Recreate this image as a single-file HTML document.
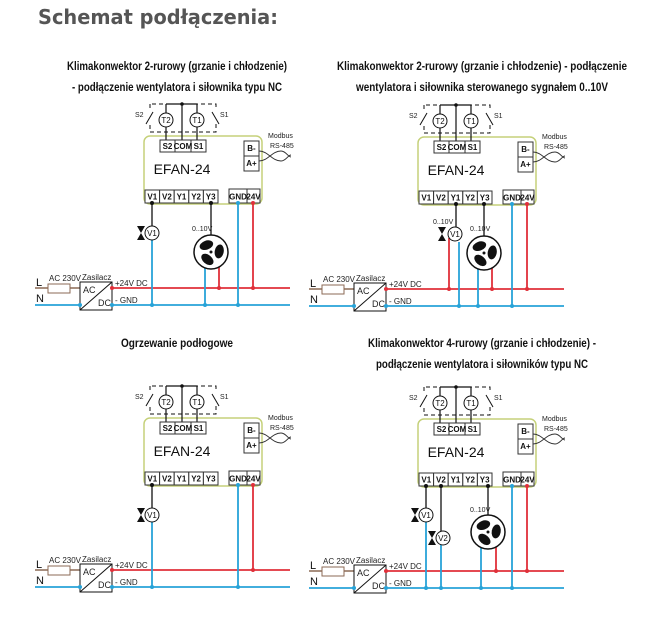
<!DOCTYPE html>
<html><head><meta charset="utf-8"><style>
html,body{margin:0;padding:0;background:#fff;}
svg{display:block;font-family:"Liberation Sans Narrow","Liberation Sans",sans-serif;}
.t{font-size:11px;fill:#111;}
.tm{font-size:8px;font-weight:bold;fill:#111;text-anchor:middle;}
.s{font-size:7px;fill:#222;}
.title{font-size:12px;font-weight:bold;fill:#111;text-anchor:middle;}
</style></head><body>
<svg width="655" height="621" viewBox="0 0 655 621" xmlns="http://www.w3.org/2000/svg">
<text x="38" y="24" style="font-family:'DejaVu Sans','Liberation Sans',sans-serif;font-weight:bold;font-size:20px;fill:#555" textLength="240" lengthAdjust="spacingAndGlyphs">Schemat podłączenia:</text>

<text class="title" x="177" y="70" textLength="220" lengthAdjust="spacingAndGlyphs">Klimakonwektor 2-rurowy (grzanie i chłodzenie)</text>
<text class="title" x="177" y="91" textLength="210" lengthAdjust="spacingAndGlyphs">- podłączenie wentylatora i siłownika typu NC</text>
<text class="title" x="482" y="70" textLength="290" lengthAdjust="spacingAndGlyphs">Klimakonwektor 2-rurowy (grzanie i chłodzenie) - podłączenie</text>
<text class="title" x="482" y="91" textLength="252" lengthAdjust="spacingAndGlyphs">wentylatora  i siłownika sterowanego sygnałem 0..10V</text>
<text class="title" x="177" y="347" textLength="112" lengthAdjust="spacingAndGlyphs">Ogrzewanie podłogowe</text>
<text class="title" x="482" y="347" textLength="228" lengthAdjust="spacingAndGlyphs">Klimakonwektor 4-rurowy (grzanie i chłodzenie) -</text>
<text class="title" x="482" y="368" textLength="212" lengthAdjust="spacingAndGlyphs">podłączenie wentylatora i siłowników typu NC</text>

<!-- Diagram 1 -->
<g transform="translate(0,0)">
<rect x="144" y="136" width="118" height="68" rx="6" fill="#fff" stroke="#c5d17a" stroke-width="1.5"/>
<g fill="none" stroke="#111" stroke-width="1" stroke-dasharray="4,3"><path d="M150 104 V132 H216 V104 H150"/></g>
<path d="M166 104 H197 M182 104 V141 M166 104 V113 M166 127 V141 M197 104 V113 M197 127 V141" stroke="#111" stroke-width="1.2" fill="none"/>
<rect x="148" y="110" width="4" height="14" fill="#fff"/><path d="M146 124 L153 112" stroke="#111"/>
<rect x="213" y="110" width="4" height="14" fill="#fff"/><path d="M219 124 L212 112" stroke="#111"/>
<circle cx="182" cy="104" r="1.8" fill="#111"/>
<circle cx="166" cy="120" r="7" fill="#fff" stroke="#111"/><text class="tm" x="166" y="123" style="font-weight:normal">T2</text>
<circle cx="197" cy="120" r="7" fill="#fff" stroke="#111"/><text class="tm" x="197" y="123" style="font-weight:normal">T1</text>
<text class="s" x="135" y="117">S2</text><text class="s" x="220" y="117">S1</text>
<g fill="#fff" stroke="#333" stroke-width="1"><rect x="160" y="140" width="15" height="12"/><rect x="175" y="140" width="16" height="12"/><rect x="191" y="140" width="15" height="12"/>
<rect x="244" y="141" width="15" height="15"/><rect x="244" y="156" width="15" height="15"/>
<rect x="145" y="190" width="14.6" height="13"/><rect x="159.6" y="190" width="14.6" height="13"/><rect x="174.2" y="190" width="14.6" height="13"/><rect x="188.8" y="190" width="14.6" height="13"/><rect x="203.4" y="190" width="14.6" height="13"/>
<rect x="229" y="189" width="18" height="14"/><rect x="247" y="189" width="13" height="14"/></g>
<text class="tm" x="167.5" y="149">S2</text><text class="tm" x="183" y="149">COM</text><text class="tm" x="198.5" y="149">S1</text>
<text class="tm" x="251.5" y="151">B-</text><text class="tm" x="251.5" y="166">A+</text>
<text class="tm" x="152.3" y="199.5">V1</text><text class="tm" x="166.9" y="199.5">V2</text><text class="tm" x="181.5" y="199.5">Y1</text><text class="tm" x="196.1" y="199.5">Y2</text><text class="tm" x="210.7" y="199.5">Y3</text>
<text class="tm" x="238" y="199.5">GND</text><text class="tm" x="253.5" y="199.5">24V</text>
<text x="182" y="174" style="font-size:14px;fill:#111;text-anchor:middle">EFAN-24</text>
<text class="s" x="268" y="138">Modbus</text><text class="s" x="270" y="148">RS-485</text>
<path d="M259 151 C268 151 272 161 281 161 C286 161 288 155 291 155 M259 161 C268 161 272 151 281 151 C286 151 288 157 291 157" stroke="#333" fill="none"/>
</g>
<!-- Diagram 2 -->
<g transform="translate(274,1)">
<rect x="144" y="136" width="118" height="68" rx="6" fill="#fff" stroke="#c5d17a" stroke-width="1.5"/>
<g fill="none" stroke="#111" stroke-width="1" stroke-dasharray="4,3"><path d="M150 104 V132 H216 V104 H150"/></g>
<path d="M166 104 H197 M182 104 V141 M166 104 V113 M166 127 V141 M197 104 V113 M197 127 V141" stroke="#111" stroke-width="1.2" fill="none"/>
<rect x="148" y="110" width="4" height="14" fill="#fff"/><path d="M146 124 L153 112" stroke="#111"/>
<rect x="213" y="110" width="4" height="14" fill="#fff"/><path d="M219 124 L212 112" stroke="#111"/>
<circle cx="182" cy="104" r="1.8" fill="#111"/>
<circle cx="166" cy="120" r="7" fill="#fff" stroke="#111"/><text class="tm" x="166" y="123" style="font-weight:normal">T2</text>
<circle cx="197" cy="120" r="7" fill="#fff" stroke="#111"/><text class="tm" x="197" y="123" style="font-weight:normal">T1</text>
<text class="s" x="135" y="117">S2</text><text class="s" x="220" y="117">S1</text>
<g fill="#fff" stroke="#333" stroke-width="1"><rect x="160" y="140" width="15" height="12"/><rect x="175" y="140" width="16" height="12"/><rect x="191" y="140" width="15" height="12"/>
<rect x="244" y="141" width="15" height="15"/><rect x="244" y="156" width="15" height="15"/>
<rect x="145" y="190" width="14.6" height="13"/><rect x="159.6" y="190" width="14.6" height="13"/><rect x="174.2" y="190" width="14.6" height="13"/><rect x="188.8" y="190" width="14.6" height="13"/><rect x="203.4" y="190" width="14.6" height="13"/>
<rect x="229" y="189" width="18" height="14"/><rect x="247" y="189" width="13" height="14"/></g>
<text class="tm" x="167.5" y="149">S2</text><text class="tm" x="183" y="149">COM</text><text class="tm" x="198.5" y="149">S1</text>
<text class="tm" x="251.5" y="151">B-</text><text class="tm" x="251.5" y="166">A+</text>
<text class="tm" x="152.3" y="199.5">V1</text><text class="tm" x="166.9" y="199.5">V2</text><text class="tm" x="181.5" y="199.5">Y1</text><text class="tm" x="196.1" y="199.5">Y2</text><text class="tm" x="210.7" y="199.5">Y3</text>
<text class="tm" x="238" y="199.5">GND</text><text class="tm" x="253.5" y="199.5">24V</text>
<text x="182" y="174" style="font-size:14px;fill:#111;text-anchor:middle">EFAN-24</text>
<text class="s" x="268" y="138">Modbus</text><text class="s" x="270" y="148">RS-485</text>
<path d="M259 151 C268 151 272 161 281 161 C286 161 288 155 291 155 M259 161 C268 161 272 151 281 151 C286 151 288 157 291 157" stroke="#333" fill="none"/>
</g>
<!-- Diagram 3 -->
<g transform="translate(0,282)">
<rect x="144" y="136" width="118" height="68" rx="6" fill="#fff" stroke="#c5d17a" stroke-width="1.5"/>
<g fill="none" stroke="#111" stroke-width="1" stroke-dasharray="4,3"><path d="M150 104 V132 H216 V104 H150"/></g>
<path d="M166 104 H197 M182 104 V141 M166 104 V113 M166 127 V141 M197 104 V113 M197 127 V141" stroke="#111" stroke-width="1.2" fill="none"/>
<rect x="148" y="110" width="4" height="14" fill="#fff"/><path d="M146 124 L153 112" stroke="#111"/>
<rect x="213" y="110" width="4" height="14" fill="#fff"/><path d="M219 124 L212 112" stroke="#111"/>
<circle cx="182" cy="104" r="1.8" fill="#111"/>
<circle cx="166" cy="120" r="7" fill="#fff" stroke="#111"/><text class="tm" x="166" y="123" style="font-weight:normal">T2</text>
<circle cx="197" cy="120" r="7" fill="#fff" stroke="#111"/><text class="tm" x="197" y="123" style="font-weight:normal">T1</text>
<text class="s" x="135" y="117">S2</text><text class="s" x="220" y="117">S1</text>
<g fill="#fff" stroke="#333" stroke-width="1"><rect x="160" y="140" width="15" height="12"/><rect x="175" y="140" width="16" height="12"/><rect x="191" y="140" width="15" height="12"/>
<rect x="244" y="141" width="15" height="15"/><rect x="244" y="156" width="15" height="15"/>
<rect x="145" y="190" width="14.6" height="13"/><rect x="159.6" y="190" width="14.6" height="13"/><rect x="174.2" y="190" width="14.6" height="13"/><rect x="188.8" y="190" width="14.6" height="13"/><rect x="203.4" y="190" width="14.6" height="13"/>
<rect x="229" y="189" width="18" height="14"/><rect x="247" y="189" width="13" height="14"/></g>
<text class="tm" x="167.5" y="149">S2</text><text class="tm" x="183" y="149">COM</text><text class="tm" x="198.5" y="149">S1</text>
<text class="tm" x="251.5" y="151">B-</text><text class="tm" x="251.5" y="166">A+</text>
<text class="tm" x="152.3" y="199.5">V1</text><text class="tm" x="166.9" y="199.5">V2</text><text class="tm" x="181.5" y="199.5">Y1</text><text class="tm" x="196.1" y="199.5">Y2</text><text class="tm" x="210.7" y="199.5">Y3</text>
<text class="tm" x="238" y="199.5">GND</text><text class="tm" x="253.5" y="199.5">24V</text>
<text x="182" y="174" style="font-size:14px;fill:#111;text-anchor:middle">EFAN-24</text>
<text class="s" x="268" y="138">Modbus</text><text class="s" x="270" y="148">RS-485</text>
<path d="M259 151 C268 151 272 161 281 161 C286 161 288 155 291 155 M259 161 C268 161 272 151 281 151 C286 151 288 157 291 157" stroke="#333" fill="none"/>
</g>
<!-- Diagram 4 -->
<g transform="translate(274,283)">
<rect x="144" y="136" width="118" height="68" rx="6" fill="#fff" stroke="#c5d17a" stroke-width="1.5"/>
<g fill="none" stroke="#111" stroke-width="1" stroke-dasharray="4,3"><path d="M150 104 V132 H216 V104 H150"/></g>
<path d="M166 104 H197 M182 104 V141 M166 104 V113 M166 127 V141 M197 104 V113 M197 127 V141" stroke="#111" stroke-width="1.2" fill="none"/>
<rect x="148" y="110" width="4" height="14" fill="#fff"/><path d="M146 124 L153 112" stroke="#111"/>
<rect x="213" y="110" width="4" height="14" fill="#fff"/><path d="M219 124 L212 112" stroke="#111"/>
<circle cx="182" cy="104" r="1.8" fill="#111"/>
<circle cx="166" cy="120" r="7" fill="#fff" stroke="#111"/><text class="tm" x="166" y="123" style="font-weight:normal">T2</text>
<circle cx="197" cy="120" r="7" fill="#fff" stroke="#111"/><text class="tm" x="197" y="123" style="font-weight:normal">T1</text>
<text class="s" x="135" y="117">S2</text><text class="s" x="220" y="117">S1</text>
<g fill="#fff" stroke="#333" stroke-width="1"><rect x="160" y="140" width="15" height="12"/><rect x="175" y="140" width="16" height="12"/><rect x="191" y="140" width="15" height="12"/>
<rect x="244" y="141" width="15" height="15"/><rect x="244" y="156" width="15" height="15"/>
<rect x="145" y="190" width="14.6" height="13"/><rect x="159.6" y="190" width="14.6" height="13"/><rect x="174.2" y="190" width="14.6" height="13"/><rect x="188.8" y="190" width="14.6" height="13"/><rect x="203.4" y="190" width="14.6" height="13"/>
<rect x="229" y="189" width="18" height="14"/><rect x="247" y="189" width="13" height="14"/></g>
<text class="tm" x="167.5" y="149">S2</text><text class="tm" x="183" y="149">COM</text><text class="tm" x="198.5" y="149">S1</text>
<text class="tm" x="251.5" y="151">B-</text><text class="tm" x="251.5" y="166">A+</text>
<text class="tm" x="152.3" y="199.5">V1</text><text class="tm" x="166.9" y="199.5">V2</text><text class="tm" x="181.5" y="199.5">Y1</text><text class="tm" x="196.1" y="199.5">Y2</text><text class="tm" x="210.7" y="199.5">Y3</text>
<text class="tm" x="238" y="199.5">GND</text><text class="tm" x="253.5" y="199.5">24V</text>
<text x="182" y="174" style="font-size:14px;fill:#111;text-anchor:middle">EFAN-24</text>
<text class="s" x="268" y="138">Modbus</text><text class="s" x="270" y="148">RS-485</text>
<path d="M259 151 C268 151 272 161 281 161 C286 161 288 155 291 155 M259 161 C268 161 272 151 281 151 C286 151 288 157 291 157" stroke="#333" fill="none"/>
</g>

<g>
<path d="M35 288 H48 M70 288 H80" stroke="#8b6a55" stroke-width="1.5"/>
<path d="M112 288 H290" stroke="#e0303a" stroke-width="1.8"/>
<path d="M35 305 H290" stroke="#27a3d8" stroke-width="1.8"/>
<rect x="48" y="284" width="22" height="9" fill="#fff" stroke="#8b6a55"/>
<rect x="80" y="282" width="32" height="28" fill="#fff" stroke="#111"/><path d="M80 310 L112 282" stroke="#111"/>
<text class="s" x="83" y="293" style="font-size:9px">AC</text><text class="s" x="98" y="306" style="font-size:9px">DC</text>
<circle cx="112" cy="288" r="2" fill="#e0303a"/><circle cx="80" cy="305" r="2" fill="#27a3d8"/><circle cx="112" cy="305" r="2" fill="#27a3d8"/>
<text class="t" x="36" y="286">L</text><text class="t" x="36" y="302">N</text>
<text class="s" x="49" y="281" style="font-size:8px">AC 230V</text><text class="s" x="82" y="280" style="font-size:8px">Zasilacz</text>
<text class="s" x="115" y="286" style="font-size:8px">+24V DC</text><text class="s" x="115" y="303" style="font-size:8px">- GND</text>
</g>
<g transform="translate(274,1)">
<path d="M35 288 H48 M70 288 H80" stroke="#8b6a55" stroke-width="1.5"/>
<path d="M112 288 H290" stroke="#e0303a" stroke-width="1.8"/>
<path d="M35 305 H290" stroke="#27a3d8" stroke-width="1.8"/>
<rect x="48" y="284" width="22" height="9" fill="#fff" stroke="#8b6a55"/>
<rect x="80" y="282" width="32" height="28" fill="#fff" stroke="#111"/><path d="M80 310 L112 282" stroke="#111"/>
<text class="s" x="83" y="293" style="font-size:9px">AC</text><text class="s" x="98" y="306" style="font-size:9px">DC</text>
<circle cx="112" cy="288" r="2" fill="#e0303a"/><circle cx="80" cy="305" r="2" fill="#27a3d8"/><circle cx="112" cy="305" r="2" fill="#27a3d8"/>
<text class="t" x="36" y="286">L</text><text class="t" x="36" y="302">N</text>
<text class="s" x="49" y="281" style="font-size:8px">AC 230V</text><text class="s" x="82" y="280" style="font-size:8px">Zasilacz</text>
<text class="s" x="115" y="286" style="font-size:8px">+24V DC</text><text class="s" x="115" y="303" style="font-size:8px">- GND</text>
</g>
<g transform="translate(0,282)">
<path d="M35 288 H48 M70 288 H80" stroke="#8b6a55" stroke-width="1.5"/>
<path d="M112 288 H290" stroke="#e0303a" stroke-width="1.8"/>
<path d="M35 305 H290" stroke="#27a3d8" stroke-width="1.8"/>
<rect x="48" y="284" width="22" height="9" fill="#fff" stroke="#8b6a55"/>
<rect x="80" y="282" width="32" height="28" fill="#fff" stroke="#111"/><path d="M80 310 L112 282" stroke="#111"/>
<text class="s" x="83" y="293" style="font-size:9px">AC</text><text class="s" x="98" y="306" style="font-size:9px">DC</text>
<circle cx="112" cy="288" r="2" fill="#e0303a"/><circle cx="80" cy="305" r="2" fill="#27a3d8"/><circle cx="112" cy="305" r="2" fill="#27a3d8"/>
<text class="t" x="36" y="286">L</text><text class="t" x="36" y="302">N</text>
<text class="s" x="49" y="281" style="font-size:8px">AC 230V</text><text class="s" x="82" y="280" style="font-size:8px">Zasilacz</text>
<text class="s" x="115" y="286" style="font-size:8px">+24V DC</text><text class="s" x="115" y="303" style="font-size:8px">- GND</text>
</g>
<g transform="translate(274,283)">
<path d="M35 288 H48 M70 288 H80" stroke="#8b6a55" stroke-width="1.5"/>
<path d="M112 288 H290" stroke="#e0303a" stroke-width="1.8"/>
<path d="M35 305 H290" stroke="#27a3d8" stroke-width="1.8"/>
<rect x="48" y="284" width="22" height="9" fill="#fff" stroke="#8b6a55"/>
<rect x="80" y="282" width="32" height="28" fill="#fff" stroke="#111"/><path d="M80 310 L112 282" stroke="#111"/>
<text class="s" x="83" y="293" style="font-size:9px">AC</text><text class="s" x="98" y="306" style="font-size:9px">DC</text>
<circle cx="112" cy="288" r="2" fill="#e0303a"/><circle cx="80" cy="305" r="2" fill="#27a3d8"/><circle cx="112" cy="305" r="2" fill="#27a3d8"/>
<text class="t" x="36" y="286">L</text><text class="t" x="36" y="302">N</text>
<text class="s" x="49" y="281" style="font-size:8px">AC 230V</text><text class="s" x="82" y="280" style="font-size:8px">Zasilacz</text>
<text class="s" x="115" y="286" style="font-size:8px">+24V DC</text><text class="s" x="115" y="303" style="font-size:8px">- GND</text>
</g>

<g stroke-width="1.8">
<path d="M238 203 V305 M512 204 V306 M238 485 V587 M512 486 V588" stroke="#27a3d8"/>
<path d="M253 203 V288 M527 204 V289 M253 485 V570 M527 486 V571" stroke="#e0303a"/>
</g>
<g fill="#27a3d8"><circle cx="238" cy="305" r="2"/><circle cx="512" cy="306" r="2"/><circle cx="238" cy="587" r="2"/><circle cx="512" cy="588" r="2"/>
<circle cx="238" cy="203" r="2"/><circle cx="512" cy="204" r="2"/><circle cx="238" cy="485" r="2"/><circle cx="512" cy="486" r="2"/></g>
<g fill="#e0303a"><circle cx="253" cy="288" r="2"/><circle cx="527" cy="289" r="2"/><circle cx="253" cy="570" r="2"/><circle cx="527" cy="571" r="2"/>
<circle cx="253" cy="203" r="2"/><circle cx="527" cy="204" r="2"/><circle cx="253" cy="485" r="2"/><circle cx="527" cy="486" r="2"/></g>

<path d="M152 203 V226" stroke="#111" stroke-width="1.3"/>
<path d="M152 240 V305" stroke="#27a3d8" stroke-width="1.8"/>
<circle cx="152" cy="203" r="2" fill="#111"/><circle cx="152" cy="305" r="2" fill="#27a3d8"/>
<circle cx="152" cy="233" r="7" fill="#fff" stroke="#111"/><text class="tm" x="152" y="236" style="font-weight:normal">V1</text>
<path d="M137 226 H145 L137 240 H145 Z" fill="#111"/>
<path d="M211 203 V235" stroke="#111" stroke-width="1.3"/><circle cx="211" cy="203" r="2" fill="#111"/>
<path d="M205 268 V305" stroke="#27a3d8" stroke-width="1.8"/><path d="M219 266 V288" stroke="#e0303a" stroke-width="1.8"/>
<circle cx="205" cy="305" r="2" fill="#27a3d8"/><circle cx="219" cy="288" r="2" fill="#e0303a"/>
<text class="s" x="192" y="231">0..10V</text>
<g transform="translate(211,252)"><circle r="17" fill="#fff" stroke="#111" stroke-width="1.5"/>
<ellipse cx="-2" cy="-8" rx="7" ry="4.5" transform="rotate(-20)" fill="#111"/><ellipse cx="-2" cy="-8" rx="7" ry="4.5" transform="rotate(100)" fill="#111"/><ellipse cx="-2" cy="-8" rx="7" ry="4.5" transform="rotate(220)" fill="#111"/><circle r="1.5" fill="#111"/></g>

<path d="M456 204 V229" stroke="#111" stroke-width="1.3"/><circle cx="456" cy="204" r="2" fill="#111"/>
<path d="M449 238 V289" stroke="#e0303a" stroke-width="1.8"/><path d="M459 242 V306" stroke="#27a3d8" stroke-width="1.8"/>
<circle cx="449" cy="289" r="2" fill="#e0303a"/><circle cx="459" cy="306" r="2" fill="#27a3d8"/>
<circle cx="455" cy="234" r="7" fill="#fff" stroke="#111"/><text class="tm" x="455" y="237" style="font-weight:normal">V1</text>
<path d="M438 227 H446 L438 241 H446 Z" fill="#111"/>
<text class="s" x="433" y="224">0..10V</text>
<path d="M484 204 V236" stroke="#111" stroke-width="1.3"/><circle cx="484" cy="204" r="2" fill="#111"/>
<path d="M478 268 V306" stroke="#27a3d8" stroke-width="1.8"/><path d="M492 266 V289" stroke="#e0303a" stroke-width="1.8"/>
<circle cx="478" cy="306" r="2" fill="#27a3d8"/><circle cx="492" cy="289" r="2" fill="#e0303a"/>
<text class="s" x="470" y="231">0..10V</text>
<g transform="translate(484,253)"><circle r="17" fill="#fff" stroke="#111" stroke-width="1.5"/>
<ellipse cx="-2" cy="-8" rx="7" ry="4.5" transform="rotate(-20)" fill="#111"/><ellipse cx="-2" cy="-8" rx="7" ry="4.5" transform="rotate(100)" fill="#111"/><ellipse cx="-2" cy="-8" rx="7" ry="4.5" transform="rotate(220)" fill="#111"/><circle r="1.5" fill="#111"/></g>

<path d="M152 485 V508" stroke="#111" stroke-width="1.3"/>
<path d="M152 522 V587" stroke="#27a3d8" stroke-width="1.8"/>
<circle cx="152" cy="485" r="2" fill="#111"/><circle cx="152" cy="587" r="2" fill="#27a3d8"/>
<circle cx="152" cy="515" r="7" fill="#fff" stroke="#111"/><text class="tm" x="152" y="518" style="font-weight:normal">V1</text>
<path d="M137 508 H145 L137 522 H145 Z" fill="#111"/>

<path d="M426 486 V508" stroke="#111" stroke-width="1.3"/><circle cx="426" cy="486" r="2" fill="#111"/>
<path d="M426 522 V588" stroke="#27a3d8" stroke-width="1.8"/><circle cx="426" cy="588" r="2" fill="#27a3d8"/>
<circle cx="426" cy="515" r="7" fill="#fff" stroke="#111"/><text class="tm" x="426" y="518" style="font-weight:normal">V1</text>
<path d="M411 508 H419 L411 522 H419 Z" fill="#111"/>
<path d="M441 486 V531" stroke="#111" stroke-width="1.3"/><circle cx="441" cy="486" r="2" fill="#111"/>
<path d="M441 545 V588" stroke="#27a3d8" stroke-width="1.8"/><circle cx="441" cy="588" r="2" fill="#27a3d8"/>
<circle cx="443" cy="538" r="7" fill="#fff" stroke="#111"/><text class="tm" x="443" y="541" style="font-weight:normal">V2</text>
<path d="M428 531 H436 L428 545 H436 Z" fill="#111"/>
<path d="M488 486 V515" stroke="#111" stroke-width="1.3"/><circle cx="488" cy="486" r="2" fill="#111"/>
<path d="M481 548 V588" stroke="#27a3d8" stroke-width="1.8"/><path d="M496 546 V571" stroke="#e0303a" stroke-width="1.8"/>
<circle cx="481" cy="588" r="2" fill="#27a3d8"/><circle cx="496" cy="571" r="2" fill="#e0303a"/>
<text class="s" x="470" y="512">0..10V</text>
<g transform="translate(488,532)"><circle r="17" fill="#fff" stroke="#111" stroke-width="1.5"/>
<ellipse cx="-2" cy="-8" rx="7" ry="4.5" transform="rotate(-20)" fill="#111"/><ellipse cx="-2" cy="-8" rx="7" ry="4.5" transform="rotate(100)" fill="#111"/><ellipse cx="-2" cy="-8" rx="7" ry="4.5" transform="rotate(220)" fill="#111"/><circle r="1.5" fill="#111"/></g>
</svg>
</body></html>
